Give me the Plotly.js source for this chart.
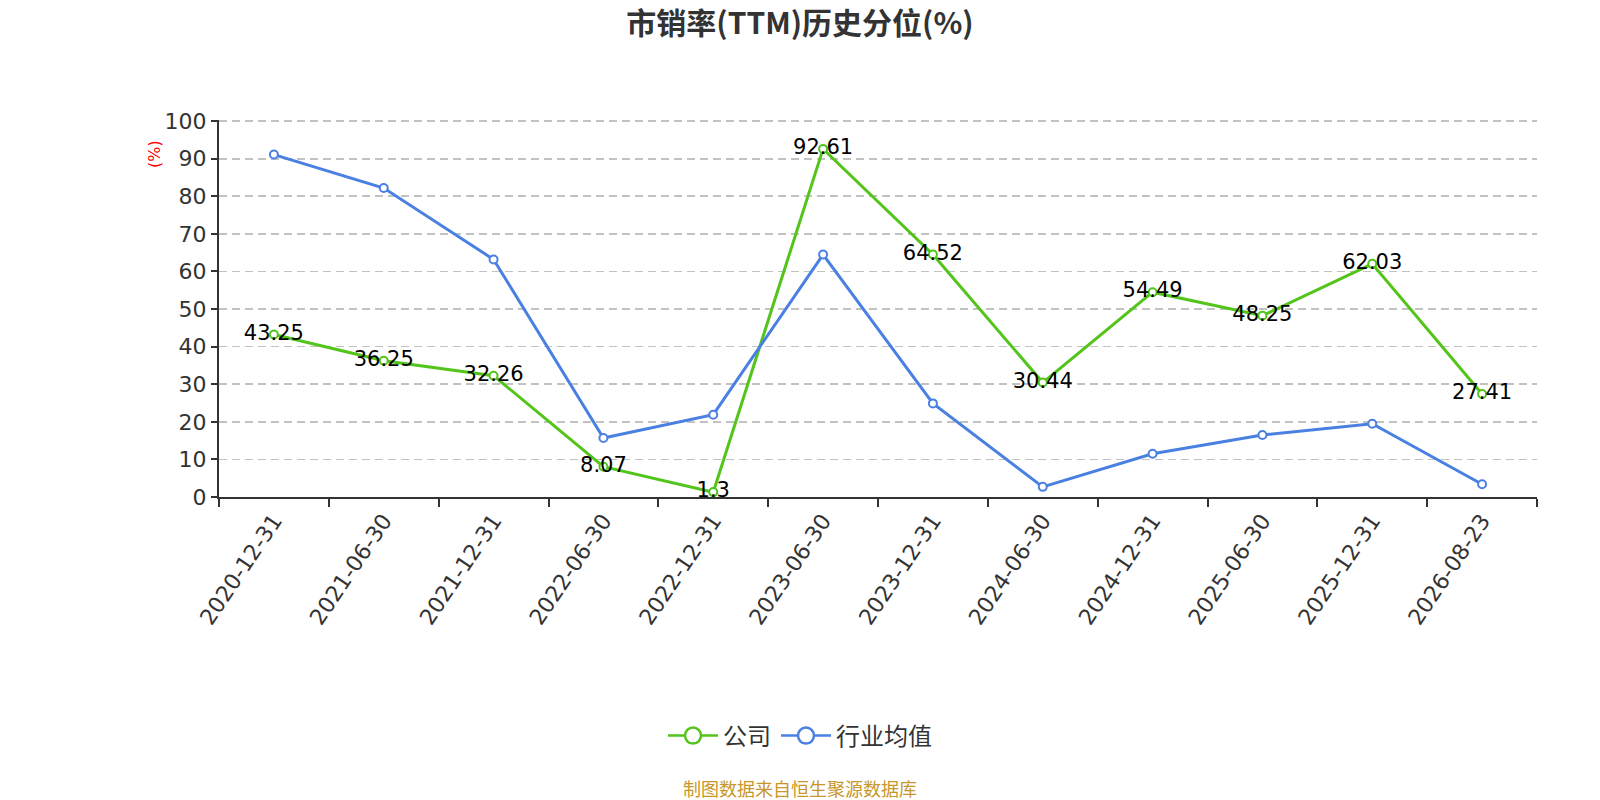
<!DOCTYPE html>
<html>
<head>
<meta charset="utf-8">
<script src="https://cdn.plot.ly/plotly-3.0.1.min.js"></script>
<style>
  html, body { margin: 0; padding: 0; background: #fff; }
  #chart { width: 1600px; height: 800px; }
</style>
</head>
<body>
<div id="chart"></div>
<script>
// dates on the x axis
var dates = ['2020-12-31', '2021-06-30', '2021-12-31', '2022-06-30', '2022-12-31', '2023-06-30',
             '2023-12-31', '2024-06-30', '2024-12-31', '2025-06-30', '2025-12-31', '2026-08-23'];

// company percentile
var company = [43.25, 36.25, 32.26, 8.07, 1.3, 92.61, 64.52, 30.44, 54.49, 48.25, 62.03, 27.41];

// industry average percentile
var industry = [91.1, 82.2, 63.2, 15.7, 21.9, 64.5, 24.9, 2.7, 11.5, 16.5, 19.5, 3.4];

var cjk = '"Noto Sans CJK SC", "Noto Sans", sans-serif';
var num = '"DejaVu Sans", "Noto Sans CJK SC", sans-serif';
var green = '#52c41a';
var blue = '#4a80e2';

// plot traces (legend drawn by the two entries below, with bigger circles)
var trace1 = {
    x: dates,
    y: company,
    name: '公司',
    type: 'scatter',
    mode: 'lines+markers+text',
    text: company.map(String),
    textposition: 'middle center',
    textfont: {family: num, size: 21, color: '#000'},
    line: {color: green, width: 3},
    marker: {symbol: 'circle', size: 8, color: '#fff', line: {color: green, width: 2}},
    cliponaxis: false,
    showlegend: false
};

var trace2 = {
    x: dates,
    y: industry,
    name: '行业均值',
    type: 'scatter',
    mode: 'lines+markers',
    line: {color: blue, width: 3},
    marker: {symbol: 'circle', size: 8, color: '#fff', line: {color: blue, width: 2}},
    cliponaxis: false,
    showlegend: false
};

// legend only entries
var leg1 = {
    x: [null], y: [null], name: '公司', type: 'scatter', mode: 'lines+markers',
    line: {color: green, width: 2.5},
    marker: {symbol: 'circle', size: 16, color: '#fff', line: {color: green, width: 2.5}}
};
var leg2 = {
    x: [null], y: [null], name: '行业均值', type: 'scatter', mode: 'lines+markers',
    line: {color: blue, width: 2.5},
    marker: {symbol: 'circle', size: 16, color: '#fff', line: {color: blue, width: 2.5}}
};

var cx = (800 - 219) / (1600 - 219 - 63);   // paper x of the page centre

var layout = {
    width: 1600,
    height: 800,
    margin: {l: 219, r: 63, t: 120, b: 303},
    paper_bgcolor: '#fff',
    plot_bgcolor: '#fff',
    showlegend: true,
    font: {family: cjk, color: '#333'},
    title: {
        text: '<b>市销率(TTM)历史分位(%)</b>',
        font: {family: cjk, size: 30, color: '#333'},
        x: 0.5,
        xanchor: 'center',
        y: 0.971,
        yanchor: 'middle'
    },
    xaxis: {
        type: 'category',
        range: [-0.5, 11.5],
        showgrid: false,
        zeroline: false,
        showline: true,
        linecolor: '#333',
        linewidth: 2,
        ticks: 'outside',
        tickson: 'boundaries',
        ticklen: 8,
        tickwidth: 2,
        tickcolor: '#333',
        tickangle: -56,
        tickfont: {family: num, size: 22, color: '#333'},
        fixedrange: true
    },
    yaxis: {
        range: [0, 100.3],
        tickvals: [0, 10, 20, 30, 40, 50, 60, 70, 80, 90, 100],
        showgrid: true,
        gridcolor: '#c2c2c2',
        griddash: '8px,5px',
        gridwidth: 1.7,
        zeroline: false,
        showline: true,
        linecolor: '#333',
        linewidth: 2,
        ticks: 'outside',
        ticklen: 6,
        tickwidth: 2,
        tickcolor: '#333',
        tickfont: {family: num, size: 22, color: '#333'},
        fixedrange: true
    },
    legend: {
        orientation: 'h',
        x: cx,
        xanchor: 'center',
        y: -0.634,
        yanchor: 'middle',
        font: {family: cjk, size: 24, color: '#333'},
        itemwidth: 50
    },
    annotations: [
        {
            text: '(%)',
            xref: 'paper', yref: 'paper',
            x: 0, y: 0.91,
            xanchor: 'center', yanchor: 'middle',
            xshift: -64,
            textangle: -90,
            showarrow: false,
            font: {family: num, size: 16, color: '#ff0000'}
        },
        {
            text: '制图数据来自恒生聚源数据库',
            xref: 'paper', yref: 'paper',
            x: cx, y: -0.772,
            xanchor: 'center', yanchor: 'middle',
            showarrow: false,
            font: {family: cjk, size: 18, color: '#c8962a'}
        }
    ]
};

Plotly.newPlot('chart', [trace1, trace2, leg1, leg2], layout, {displayModeBar: false, staticPlot: true});
</script>
</body>
</html>
